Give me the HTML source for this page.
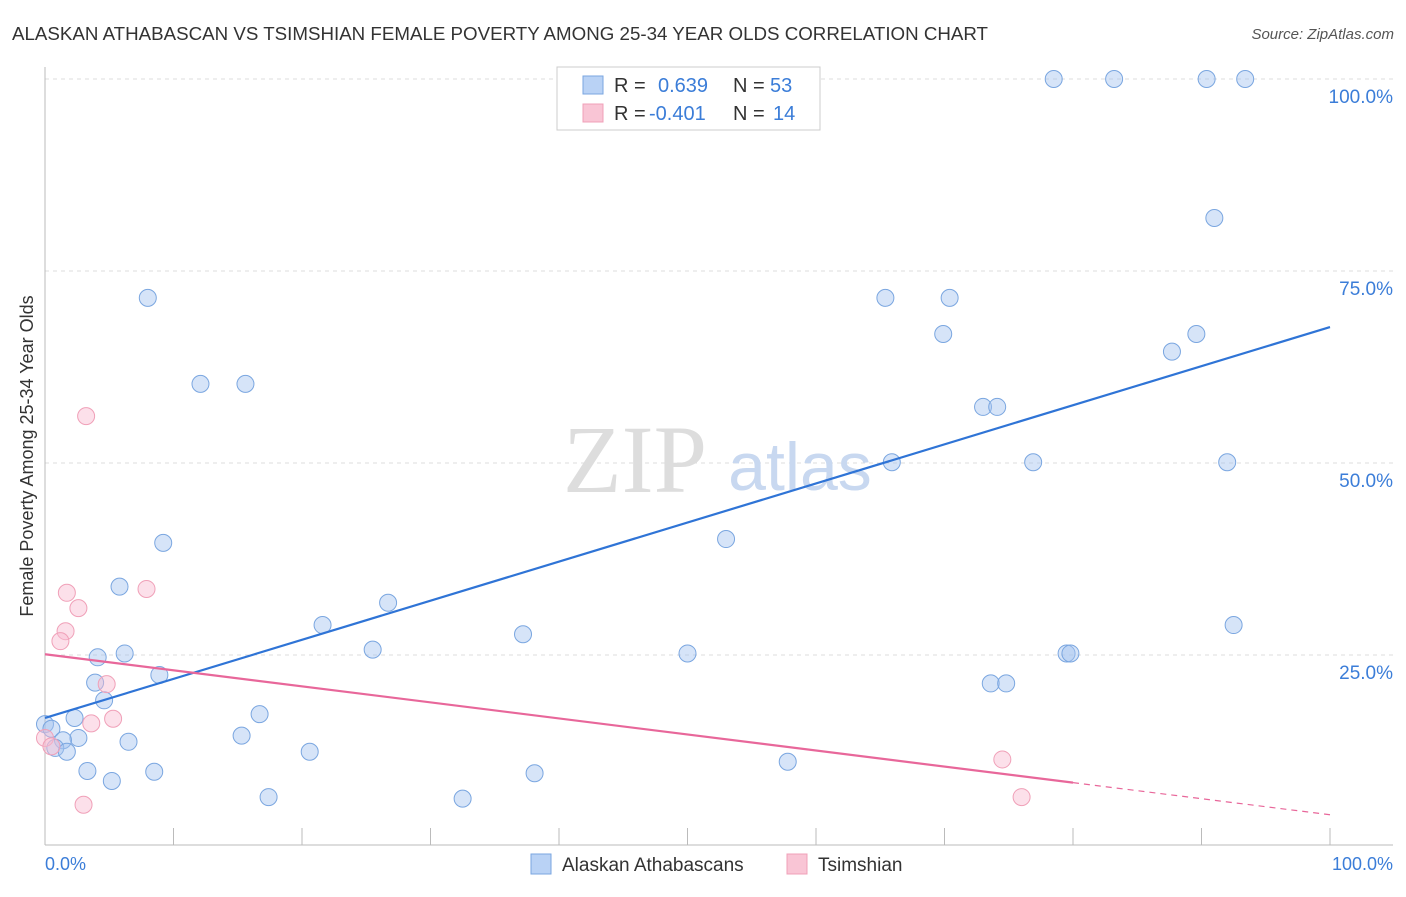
<!DOCTYPE html>
<html><head><meta charset="utf-8">
<style>
body{margin:0;background:#fff;font-family:"Liberation Sans",sans-serif;}
</style></head>
<body>
<svg id="chart" width="1406" height="892" viewBox="0 0 1406 892" font-family="Liberation Sans, sans-serif">
<text x="12" y="40" font-size="18" fill="#333" textLength="976" lengthAdjust="spacingAndGlyphs">ALASKAN ATHABASCAN VS TSIMSHIAN FEMALE POVERTY AMONG 25-34 YEAR OLDS CORRELATION CHART</text>
<text x="1394" y="39" font-size="15" fill="#555" text-anchor="end" font-style="italic">Source: ZipAtlas.com</text>
<text x="33" y="456" font-size="18" fill="#333" text-anchor="middle" transform="rotate(-90 33 456)">Female Poverty Among 25-34 Year Olds</text>
<g id="grid"></g>
<line x1="45" y1="67" x2="45" y2="845" stroke="#bbb"/>
<line x1="45" y1="845" x2="1393" y2="845" stroke="#bbb"/>
<g id="xticks"></g>
<text x="635" y="492" font-size="96" fill="#ddd" style="font-family:'Liberation Serif',serif" text-anchor="middle">ZIP</text>
<text x="800" y="490" font-size="68" fill="#c8d8f0" text-anchor="middle">atlas</text>
<g id="ylabels"></g>
<text x="45" y="870" font-size="18" fill="#3b7dd8">0.0%</text>
<text x="1393" y="870" font-size="18" fill="#3b7dd8" text-anchor="end">100.0%</text>
<g id="marks"></g>
<g>
<rect x="557" y="67" width="263" height="63" fill="#fff" stroke="#ccc"/>
<rect x="583" y="76" width="20" height="18" fill="#b9d2f5" stroke="#7aa6e0"/>
<rect x="583" y="104" width="20" height="18" fill="#f9c5d5" stroke="#f0a0b8"/>
<text x="614" y="92" font-size="20" fill="#333">R = <tspan fill="#3b7dd8" x="658">0.639</tspan><tspan x="733" fill="#333">N =</tspan><tspan x="770" fill="#3b7dd8">53</tspan></text>
<text x="614" y="120" font-size="20" fill="#333">R = <tspan fill="#3b7dd8" x="649">-0.401</tspan><tspan x="733" fill="#333">N =</tspan><tspan x="773" fill="#3b7dd8">14</tspan></text>
</g>
<g>
<rect x="531" y="854" width="20" height="20" fill="#b9d2f5" stroke="#7aa6e0"/>
<text x="562" y="871" font-size="19" fill="#333">Alaskan Athabascans</text>
<rect x="787" y="854" width="20" height="20" fill="#f9c5d5" stroke="#f0a0b8"/>
<text x="818" y="871" font-size="19" fill="#333">Tsimshian</text>
</g>
</svg>
<script>
const yTicks=[25,50,75,100];
const yTickLabels=["25.0%","50.0%","75.0%","100.0%"];
const xTicks=[0,10,20,30,40,50,60,70,80,90,100];
const blueX=[78.5,83.2,90.4,93.4,91,8,65.4,70.4,69.9,89.6,87.7,12.1,15.6,73,74.1,65.9,76.9,92,9.2,53,5.8,26.7,21.6,92.5,37.2,25.5,6.2,4.1,50,79.5,79.8,8.9,3.9,73.6,74.8,4.6,16.7,2.3,0,0.5,2.6,15.3,1.4,6.5,0.8,1.7,20.6,57.8,3.3,8.5,38.1,5.2,17.4,32.5];
const blueY=[100,100,100,100,81.9,71.5,71.5,71.5,66.8,66.8,64.5,60.3,60.3,57.3,57.3,50.1,50.1,50.1,39.6,40.1,33.9,31.8,28.9,28.9,27.7,25.7,25.2,24.7,25.2,25.2,25.2,22.4,21.4,21.3,21.3,19.1,17.3,16.8,16,15.4,14.2,14.5,13.9,13.7,12.9,12.4,12.4,11.1,9.9,9.8,9.6,8.6,6.5,6.3];
const pinkX=[3.2,1.7,2.6,7.9,1.6,1.2,4.8,3.6,5.3,0,0.5,74.5,3,76];
const pinkY=[56.1,33.1,31.1,33.6,28.1,26.8,21.2,16.1,16.7,14.2,13.1,11.4,5.5,6.5];
const blueLine=[16.8,67.7];
const pinkLine=[25.1,4.2];
const pinkSolidEnd=80;

const X0=45,X1=1330,Y0=847,Y100=79;
const xs=v=>X0+(X1-X0)*v/100;
const ys=v=>Y0-(Y0-Y100)*v/100;
const NS="http://www.w3.org/2000/svg";
function mk(tag,attrs,parent){const e=document.createElementNS(NS,tag);for(const k in attrs)e.setAttribute(k,attrs[k]);parent.appendChild(e);return e;}
const grid=document.getElementById('grid'),yl=document.getElementById('ylabels'),xt=document.getElementById('xticks'),marks=document.getElementById('marks');
yTicks.forEach((t,i)=>{
  const l=mk('line',{x1:45,x2:1393,y1:ys(t),y2:ys(t),stroke:'#ddd','stroke-dasharray':'4,4'},grid);
  
  
  const tx=mk('text',{x:1393,y:ys(t)+24,'font-size':19,fill:'#3b7dd8','text-anchor':'end'},yl);
  tx.textContent=yTickLabels[i];
  
  
});
xTicks.forEach(t=>{
  const l=mk('line',{x1:xs(t),x2:xs(t),y1:828,y2:845,stroke:'#bbb'},xt);
  
  
});
blueX.forEach((v,i)=>{
  const c=mk('circle',{cx:xs(v),cy:ys(blueY[i]),r:8.5,fill:'rgba(164,196,240,0.45)',stroke:'#7aa6e0','stroke-width':1},marks);
  
  
});
pinkX.forEach((v,i)=>{
  const c=mk('circle',{cx:xs(v),cy:ys(pinkY[i]),r:8.5,fill:'rgba(248,187,208,0.45)',stroke:'#f0a0b8','stroke-width':1},marks);
  
  
});
const bl=mk('line',{x1:xs(0),y1:ys(blueLine[0]),x2:xs(100),y2:ys(blueLine[1]),stroke:'#2f74d6','stroke-width':2.2},marks);


const pm=pinkLine[0]+(pinkLine[1]-pinkLine[0])*pinkSolidEnd/100;
const pl=mk('line',{x1:xs(0),y1:ys(pinkLine[0]),x2:xs(pinkSolidEnd),y2:ys(pm),stroke:'#e8679a','stroke-width':2.2},marks);


const pd=mk('line',{x1:xs(pinkSolidEnd),y1:ys(pm),x2:xs(100),y2:ys(pinkLine[1]),stroke:'#e8679a','stroke-width':1.2,'stroke-dasharray':'6,5'},marks);


</script>
</body></html>
